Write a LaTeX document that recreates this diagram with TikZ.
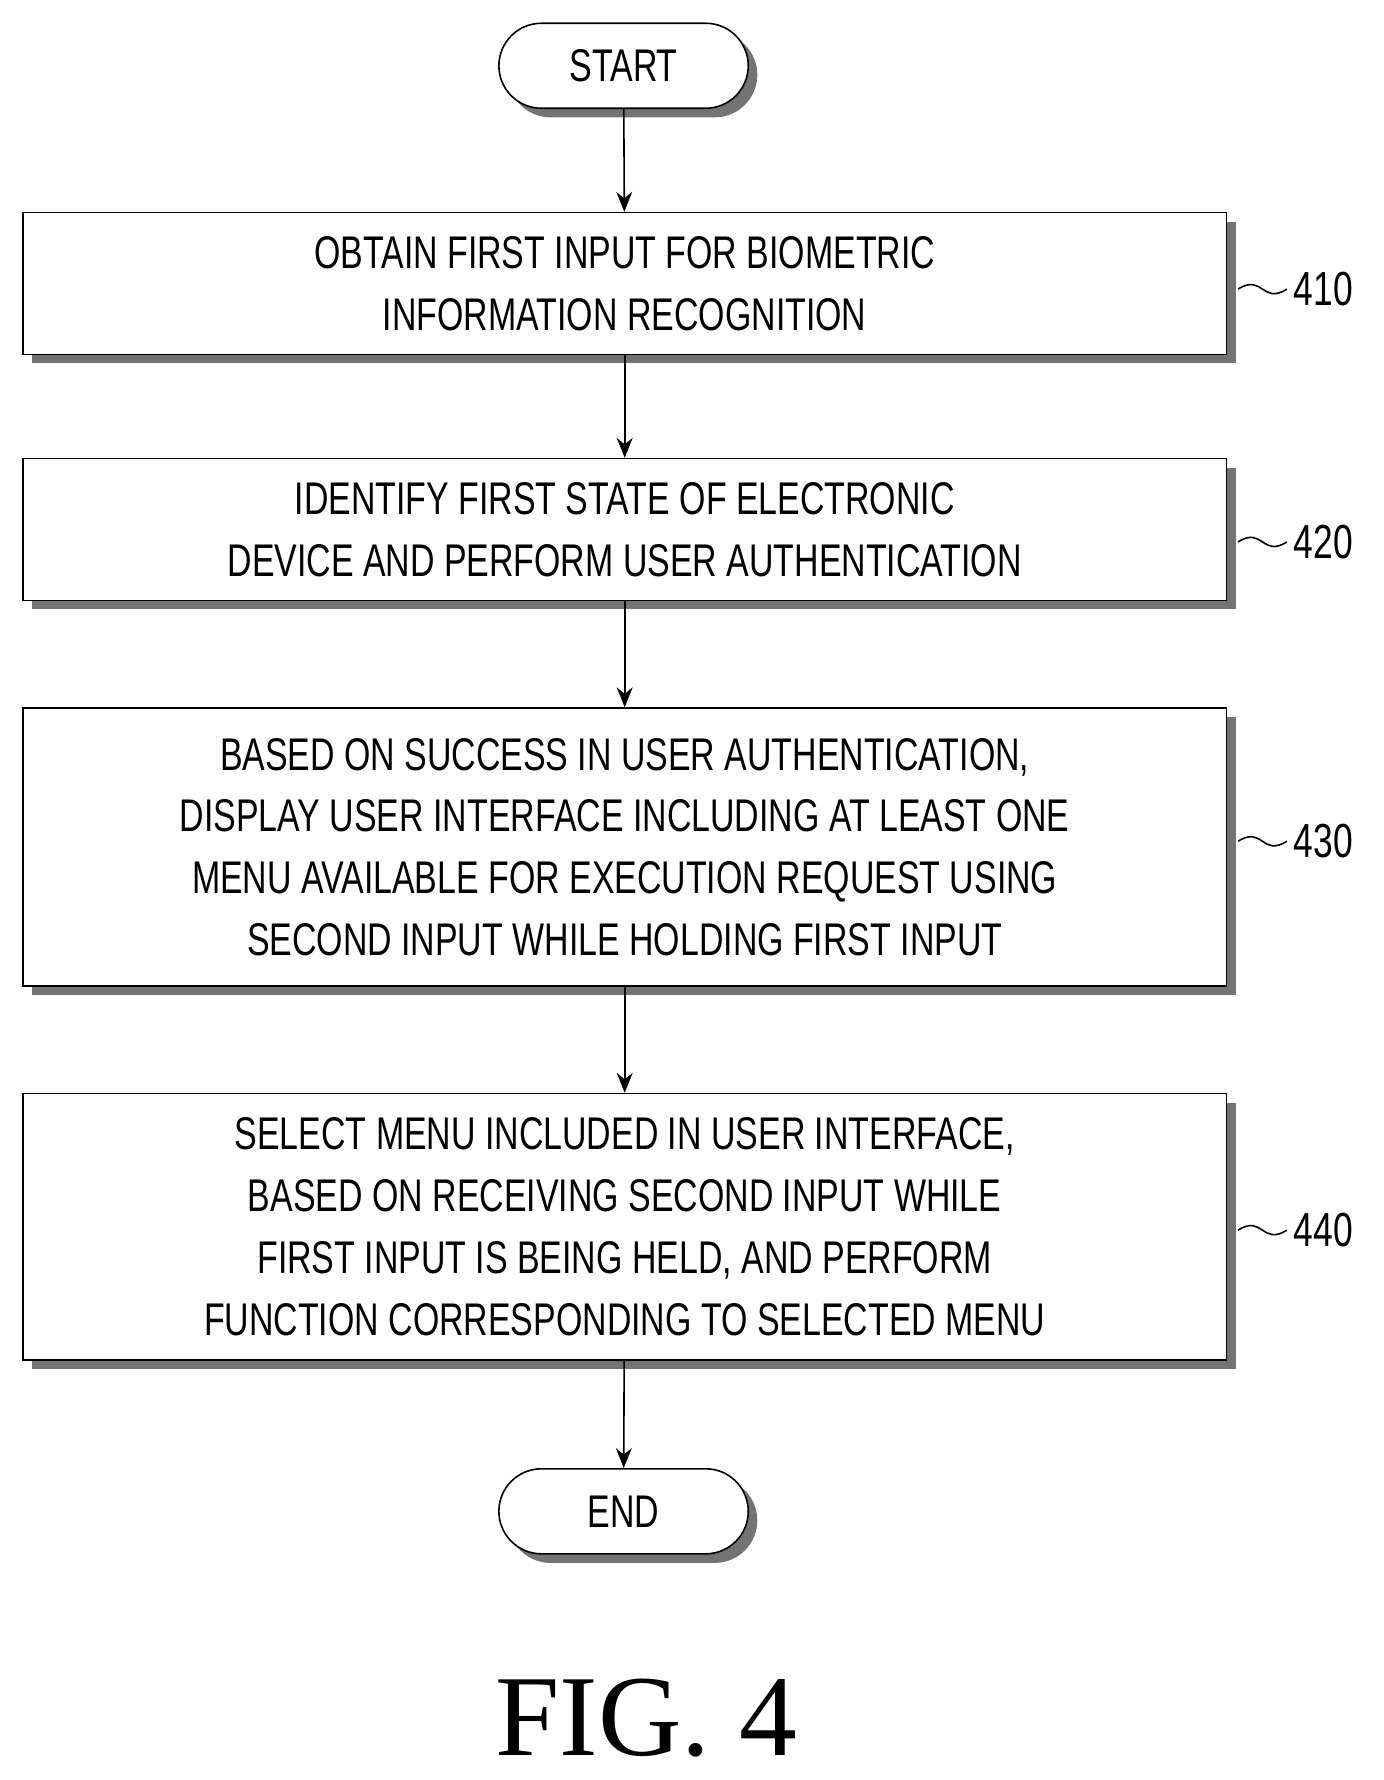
\documentclass[tikz,border=0pt]{standalone}
\usepackage{fontspec}
\setmainfont{Liberation Serif}
\newfontfamily\narrowfont[FakeStretch=0.74]{Liberation Sans}
\usetikzlibrary{shadows,arrows.meta}

\tikzset{
  stepbox/.style={draw, thick, fill=white, minimum width=21.24cm, align=center,
    font=\narrowfont\fontsize{23}{31}\selectfont,
    drop shadow={shadow xshift=0.16cm, shadow yshift=-0.16cm, fill=black!55, opacity=1}},
  term/.style={stepbox, minimum width=4.4cm, minimum height=1.5cm, rounded corners=0.75cm},
  flow/.style={thick, -{Stealth[length=10pt,width=8pt]}},
  tag/.style={font=\narrowfont\fontsize{24}{28}\selectfont}
}

\begin{document}
\begin{tikzpicture}[x=0.02cm, y=-0.02cm]
\useasboundingbox (0,0) rectangle (1220,1570);

\node[term] (start) at (550,58) {START};
\node[stepbox, minimum height=2.5cm] (s410) at (551,250) {OBTAIN FIRST INPUT FOR BIOMETRIC\\INFORMATION RECOGNITION};
\node[stepbox, minimum height=2.5cm] (s420) at (551,467) {IDENTIFY FIRST STATE OF ELECTRONIC\\DEVICE AND PERFORM USER AUTHENTICATION};
\node[stepbox, minimum height=4.9cm] (s430) at (551,747) {BASED ON SUCCESS IN USER AUTHENTICATION,\\DISPLAY USER INTERFACE INCLUDING AT LEAST ONE\\MENU AVAILABLE FOR EXECUTION REQUEST USING\\SECOND INPUT WHILE HOLDING FIRST INPUT};
\node[stepbox, minimum height=4.7cm] (s440) at (551,1082) {SELECT MENU INCLUDED IN USER INTERFACE,\\BASED ON RECEIVING SECOND INPUT WHILE\\FIRST INPUT IS BEING HELD, AND PERFORM\\FUNCTION CORRESPONDING TO SELECTED MENU};
\node[term] (end) at (550,1333) {END};

\draw[flow] (start) -- (s410);
\draw[flow] (s410) -- (s420);
\draw[flow] (s420) -- (s430);
\draw[flow] (s430) -- (s440);
\draw[flow] (s440) -- (end);

% step numbers
\foreach \n/\y in {410/255, 420/478, 430/742, 440/1085}{
  \node[tag, anchor=west] (t\n) at (1135,\y) {\n};
  \coordinate (c\n) at (1092,\y);
  \draw[thick] (c\n) .. controls +(22,-14) and +(-22,14) .. (t\n.west);
}

\node[font=\fontsize{58}{60}\selectfont] (fig) at (570,1515) {FIG. 4};
\end{tikzpicture}
\end{document}
